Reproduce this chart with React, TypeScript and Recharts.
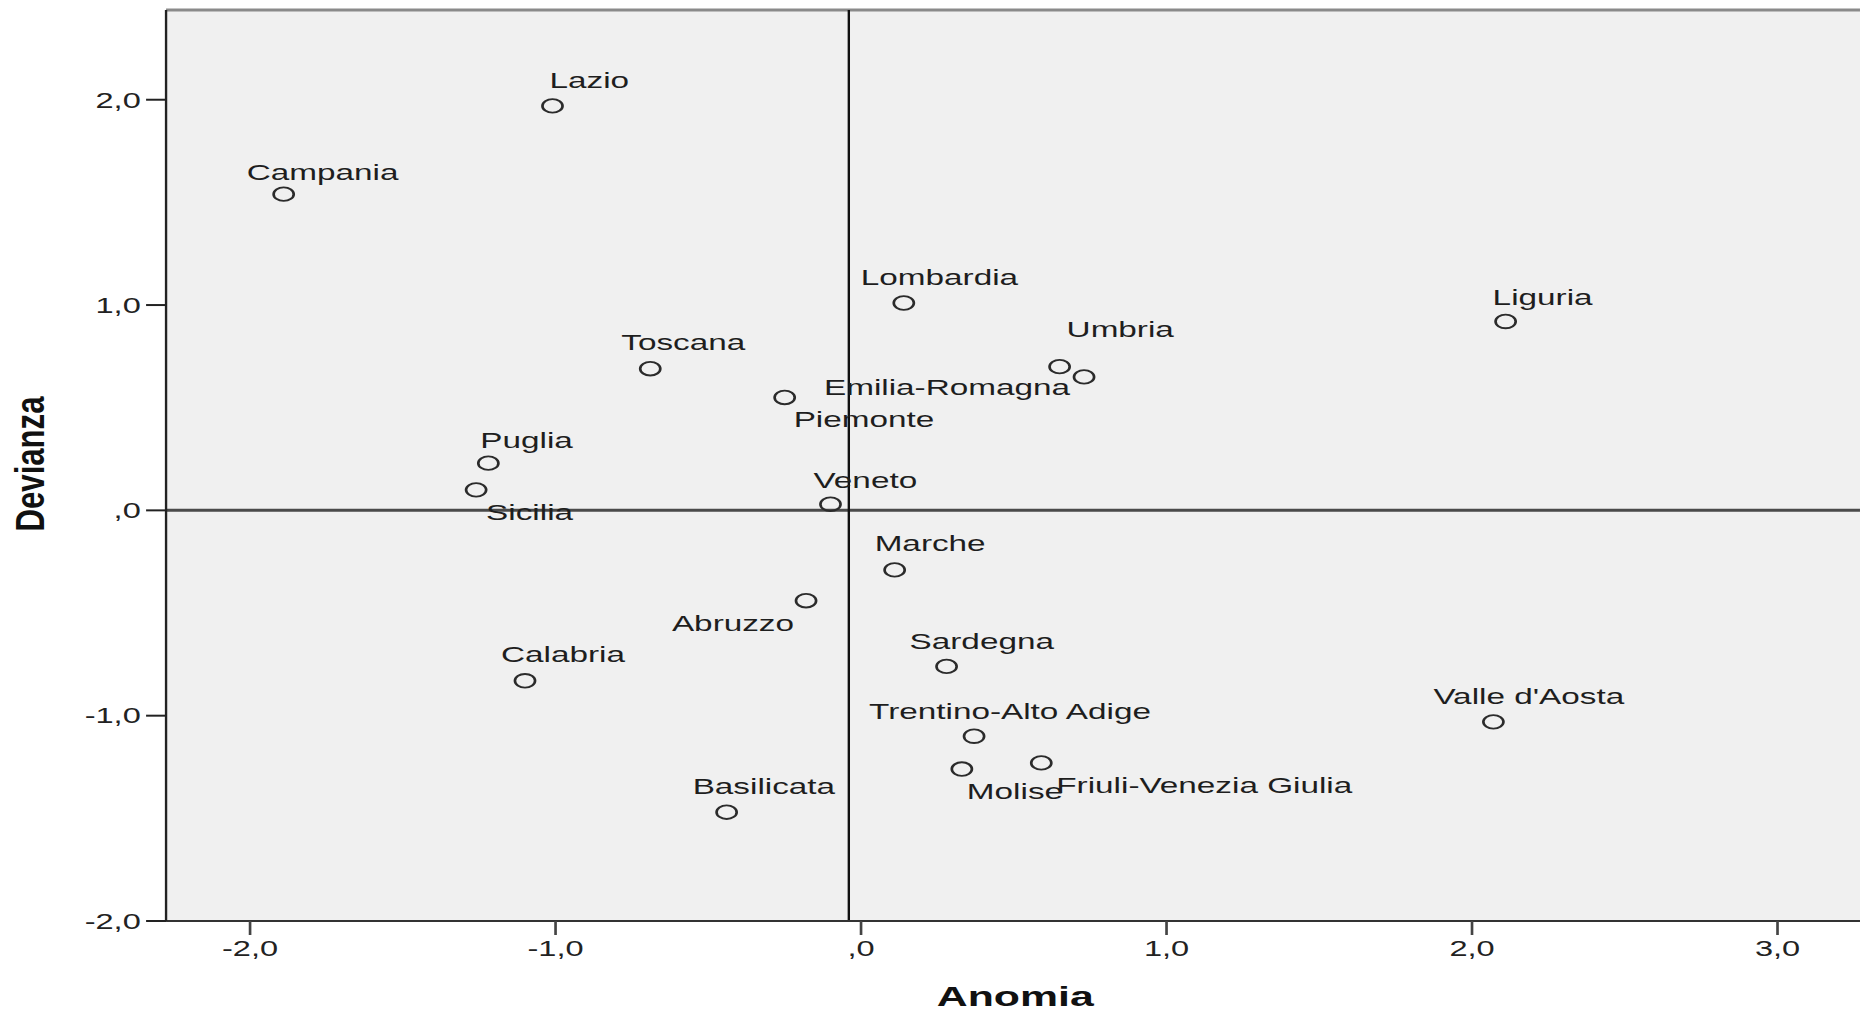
import { ScatterChart, Scatter, XAxis, YAxis, CartesianGrid, ReferenceLine } from 'recharts';

// the reference image is stretched sideways, so draw narrow and scale x
const SX = 1.48;
const W = 1860 / SX;
const H = 1014;
const FONT = '"Liberation Sans", Arial, sans-serif';

const regions = [
  'Lazio', 'Campania', 'Lombardia', 'Liguria', 'Toscana', 'Umbria', 'Emilia-Romagna',
  'Piemonte', 'Puglia', 'Sicilia', 'Veneto', 'Marche', 'Abruzzo', 'Sardegna', 'Calabria',
  "Valle d'Aosta", 'Trentino-Alto Adige', 'Friuli-Venezia Giulia', 'Molise', 'Basilicata',
];
const anomia = [
  -1.01, -1.89, 0.14, 2.11, -0.69, 0.65, 0.73,
  -0.25, -1.22, -1.26, -0.1, 0.11, -0.18, 0.28, -1.1,
  2.07, 0.37, 0.59, 0.33, -0.44,
];
const devianza = [
  1.97, 1.54, 1.01, 0.92, 0.69, 0.7, 0.65,
  0.55, 0.23, 0.1, 0.03, -0.29, -0.44, -0.76, -0.83,
  -1.03, -1.1, -1.23, -1.26, -1.47,
];
const meanAnomia = -0.04;
const meanDevianza = 0;

const xTicks = [-2, -1, 0, 1, 2, 3];
const xTickLabels = ['-2,0', '-1,0', ',0', '1,0', '2,0', '3,0'];
const yTicks = [-2, -1, 0, 1, 2];
const yTickLabels = ['-2,0', '-1,0', ',0', '1,0', '2,0'];

// where each point label sits around its marker: anchor, dx, dy (screen px)
const labelPlacement: [string, number, number][] = [
  ['start', -3, -25], ['start', -37, -22], ['start', -43, -25], ['start', -13, -24],
  ['start', -29, -26], ['start', 7, -37], ['end', -14, 11], ['start', 9, 22],
  ['start', -8, -23], ['start', 10, 23], ['start', -17, -24], ['start', -20, -26],
  ['end', -12, 23], ['start', -37, -25], ['start', -24, -26], ['start', -60, -25],
  ['start', -105, -25], ['start', 15, 23], ['start', 5, 22], ['start', -34, -26],
];

const data = regions.map((name, i) => ({ name, i, x: anomia[i], y: devianza[i] }));

function PointMark(props: any) {
  const { cx, cy, payload } = props;
  const [anchor, dx, dy] = labelPlacement[payload.i];
  return (
    <g>
      <circle cx={cx} cy={cy} r={6.8} fill="none" stroke="#2b2b2b" strokeWidth={1.8} />
      <text
        x={cx + dx / SX}
        y={cy + dy + 7.5}
        textAnchor={anchor as any}
        fontSize={22.5}
        fontFamily={FONT}
        fill="#1e1e1e"
      >
        {payload.name}
      </text>
    </g>
  );
}

function XTitle() {
  return (
    <text
      x={686}
      y={1006}
      textAnchor="middle"
      textLength={106}
      lengthAdjust="spacingAndGlyphs"
      fontSize={28}
      fontWeight="bold"
      fontFamily={FONT}
      fill="#111"
    >
      Anomia
    </text>
  );
}

function YTitle() {
  return (
    <text
      x={19.6}
      y={464}
      transform="rotate(-90 19.6 464)"
      textAnchor="middle"
      dominantBaseline="central"
      textLength={135}
      lengthAdjust="spacingAndGlyphs"
      fontSize={28}
      fontWeight="bold"
      fontFamily={FONT}
      fill="#111"
    >
      Devianza
    </text>
  );
}

export default function App() {
  return (
    <div style={{ position: 'absolute', left: 0, top: 0, width: 1860, height: H, overflow: 'hidden', background: '#fff' }}>
      <div style={{ width: W, height: H, transform: `scaleX(${SX})`, transformOrigin: '0 0' }}>
        <ScatterChart width={W} height={H} margin={{ top: 10, right: 0, bottom: 0, left: 0 }}>
          <CartesianGrid horizontal={false} vertical={false} fill="#f0f0f0" />
          <XAxis
            type="number"
            dataKey="x"
            domain={[-2.275, 3.27]}
            ticks={xTicks}
            allowDataOverflow
            height={93}
            tickSize={14}
            tickMargin={5}
            tickFormatter={(v: number) => xTickLabels[xTicks.indexOf(v)]}
            tick={{ fontSize: 22, fill: '#222', fontFamily: FONT }}
            axisLine={{ stroke: '#333', strokeWidth: 2 }}
            tickLine={{ stroke: '#444', strokeWidth: 1.8 }}
            label={<XTitle />}
          />
          <YAxis
            type="number"
            dataKey="y"
            domain={[-2, 2.437]}
            ticks={yTicks}
            allowDataOverflow
            width={112.2}
            tickSize={13.5}
            tickMargin={3.6}
            tickFormatter={(v: number) => yTickLabels[yTicks.indexOf(v)]}
            tick={{ fontSize: 22, fill: '#222', fontFamily: FONT }}
            axisLine={{ stroke: '#222', strokeWidth: 1.6 }}
            tickLine={{ stroke: '#222', strokeWidth: 2 }}
            label={<YTitle />}
          />
          <ReferenceLine y={2.437} stroke="#8a8a8a" strokeWidth={3} />
          <ReferenceLine y={meanDevianza} stroke="#4a4a4a" strokeWidth={3} />
          <ReferenceLine x={meanAnomia} stroke="#111" strokeWidth={1.6} />
          <Scatter data={data} shape={PointMark} isAnimationActive={false} />
        </ScatterChart>
      </div>
    </div>
  );
}
